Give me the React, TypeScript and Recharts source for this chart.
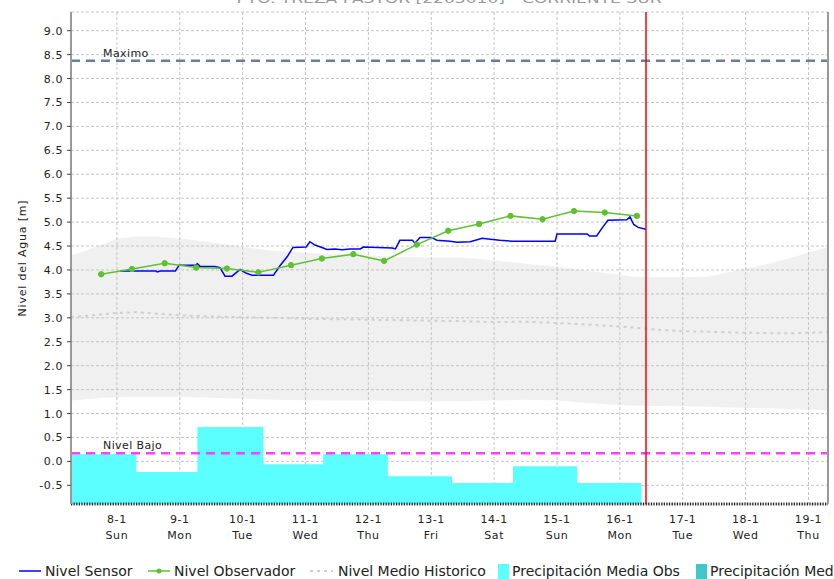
import React from 'react';
import { ComposedChart, XAxis, YAxis, CartesianGrid, Line, Area, ReferenceLine } from 'recharts';

const FONT = '"DejaVu Sans", Verdana, sans-serif';

// ---- axes ----
const X_MIN = 7.27;
const X_MAX = 19.31;
const Y_MIN = -0.89;
const Y_MAX = 9.39;
const R_MIN = -1.045;
const R_MAX = 9.1;

const dayTicks = [8, 9, 10, 11, 12, 13, 14, 15, 16, 17, 18, 19];
const dayLabels = ['8-1', '9-1', '10-1', '11-1', '12-1', '13-1', '14-1', '15-1', '16-1', '17-1', '18-1', '19-1'];
const weekdayLabels = ['Sun', 'Mon', 'Tue', 'Wed', 'Thu', 'Fri', 'Sat', 'Sun', 'Mon', 'Tue', 'Wed', 'Thu'];
const levelTicks = [-0.5, 0, 0.5, 1, 1.5, 2, 2.5, 3, 3.5, 4, 4.5, 5, 5.5, 6, 6.5, 7, 7.5, 8, 8.5, 9];
const rightTicks = [-1, 0, 1, 2, 3, 4, 5, 6, 7, 8, 9];

// ---- reference levels ----
const maxLevel = 8.37;
const lowLevel = 0.17;
const nowDay = 16.415;

// ---- Nivel Sensor ----
const sensorDays = [8.05, 8.62, 8.64, 8.69, 8.93, 8.99, 9.25, 9.28, 9.32, 9.56, 9.64, 9.72, 9.83, 9.96, 10.06, 10.15, 10.49, 10.6, 10.71, 10.8, 11.01, 11.07, 11.15, 11.26, 11.34, 11.47, 11.58, 11.71, 11.87, 11.92, 12.38, 12.43, 12.5, 12.7, 12.74, 12.82, 13.0, 13.09, 13.3, 13.41, 13.62, 13.81, 13.94, 14.09, 14.29, 14.57, 14.97, 15.0, 15.48, 15.52, 15.63, 15.73, 15.81, 16.11, 16.16, 16.22, 16.29, 16.415];
const sensorLevels = [3.98, 3.98, 3.96, 3.98, 3.98, 4.10, 4.10, 4.13, 4.08, 4.07, 4.05, 3.87, 3.87, 4.01, 3.93, 3.89, 3.89, 4.10, 4.28, 4.47, 4.48, 4.59, 4.52, 4.47, 4.43, 4.44, 4.42, 4.44, 4.44, 4.48, 4.46, 4.44, 4.62, 4.62, 4.56, 4.68, 4.68, 4.62, 4.60, 4.58, 4.59, 4.66, 4.64, 4.62, 4.60, 4.60, 4.60, 4.75, 4.75, 4.71, 4.71, 4.90, 5.04, 5.05, 5.11, 4.95, 4.89, 4.85];

// ---- Nivel Observador ----
const observerDays = [7.75, 8.24, 8.76, 9.26, 9.75, 10.25, 10.77, 11.26, 11.76, 12.25, 12.77, 13.27, 13.76, 14.26, 14.77, 15.27, 15.76, 16.27];
const observerLevels = [3.91, 4.02, 4.14, 4.05, 4.03, 3.95, 4.10, 4.24, 4.33, 4.19, 4.53, 4.82, 4.96, 5.13, 5.06, 5.23, 5.20, 5.13];

// ---- Historic band + median ----
const histDays = [7.27, 7.5, 7.8, 8.0, 8.3, 8.6, 9.0, 9.5, 10.0, 10.5, 11.0, 11.5, 12.0, 12.5, 13.0, 13.5, 14.0, 14.5, 15.0, 15.5, 16.0, 16.2, 16.5, 17.0, 17.4, 17.9, 18.4, 18.8, 19.31];
const histHigh = [4.3, 4.4, 4.55, 4.65, 4.7, 4.7, 4.66, 4.58, 4.48, 4.4, 4.36, 4.33, 4.3, 4.27, 4.26, 4.26, 4.2, 4.13, 4.07, 3.98, 3.9, 3.86, 3.85, 3.85, 3.86, 4.0, 4.14, 4.28, 4.48];
const histLow = [1.27, 1.3, 1.33, 1.34, 1.35, 1.35, 1.35, 1.33, 1.31, 1.29, 1.28, 1.27, 1.27, 1.26, 1.25, 1.26, 1.27, 1.29, 1.27, 1.22, 1.18, 1.17, 1.16, 1.15, 1.14, 1.12, 1.11, 1.09, 1.07];
const histMedian = [3.02, 3.04, 3.08, 3.1, 3.12, 3.09, 3.05, 3.03, 3.01, 3.0, 2.98, 2.97, 2.96, 2.95, 2.94, 2.93, 2.91, 2.92, 2.89, 2.86, 2.82, 2.8, 2.76, 2.72, 2.71, 2.69, 2.68, 2.68, 2.7];

// ---- Precipitación Media Obs (daily blocks) ----
const precipEdges = [7.27, 8.31, 9.28, 10.33, 11.28, 12.31, 13.33, 14.3, 15.32, 16.34];
const precipValues = [0.15, -0.22, 0.72, -0.06, 0.15, -0.31, -0.45, -0.10, -0.45];

const sensorData = sensorDays.map((d, i) => ({ d, v: sensorLevels[i] }));
const observerData = observerDays.map((d, i) => ({ d, v: observerLevels[i] }));
const bandData = histDays.map((d, i) => ({ d, r: [histLow[i], histHigh[i]] }));
const medianData = histDays.map((d, i) => ({ d, v: histMedian[i] }));
const precipData = precipEdges.map((d, i) => ({ d, p: precipValues[Math.min(i, precipValues.length - 1)] }));

const XTick = (props: any) => {
  const { x, y, payload } = props;
  const i = dayTicks.indexOf(payload.value);
  return (
    <g>
      <text x={x} y={y + 19} textAnchor="middle" fontSize={11} fill="#222" fontFamily={FONT} letterSpacing={0.6}>
        {dayLabels[i]}
      </text>
      <text x={x} y={y + 35} textAnchor="middle" fontSize={11} fill="#222" fontFamily={FONT} letterSpacing={0.6}>
        {weekdayLabels[i]}
      </text>
    </g>
  );
};

const YTick = (props: any) => {
  const { x, y, payload } = props;
  return (
    <text x={x} y={y + 4} textAnchor="end" fontSize={11} fill="#222" fontFamily={FONT} letterSpacing={0.6}>
      {Number(payload.value).toFixed(1)}
    </text>
  );
};

const refLabel = (text: string) => (p: any) => {
  const vb = p.viewBox || {};
  const x = (vb.x ?? 71) + 32;
  const y = (vb.y ?? 0) - 4;
  return (
    <text x={x} y={y} fontSize={11} fill="#222" fontFamily={FONT} letterSpacing={0.4}>
      {text}
    </text>
  );
};

const yLabel = (p: any) => {
  const vb = p.viewBox || {};
  const cx = 26;
  const cy = (vb.y ?? 12) + (vb.height ?? 492) / 2;
  return (
    <text x={cx} y={cy} transform={`rotate(-90, ${cx}, ${cy})`} textAnchor="middle" fontSize={11} fill="#222" fontFamily={FONT} letterSpacing={0.8}>
      Nivel del Agua [m]
    </text>
  );
};

export default function App() {
  return (
    <div style={{ position: 'absolute', left: 0, top: 0, width: 834, height: 579, overflow: 'hidden', background: '#fff' }}>
      <ComposedChart width={834} height={579} margin={{ top: 12, right: 0, bottom: 30, left: 0 }}>
        <XAxis
          dataKey="d"
          type="number"
          domain={[X_MIN, X_MAX]}
          allowDataOverflow
          ticks={dayTicks}
          interval={0}
          tick={(p: any) => <XTick {...p} />}
          tickLine={false}
          tickSize={0}
          tickMargin={0}
          height={45}
          axisLine={{ stroke: '#222', strokeWidth: 3, strokeDasharray: '1.2 1.4' }}
        />
        <XAxis
          xAxisId="top"
          orientation="top"
          type="number"
          domain={[X_MIN, X_MAX]}
          allowDataOverflow
          tick={false}
          tickLine={false}
          height={0}
          axisLine={{ stroke: '#999', strokeWidth: 2 }}
        />
        <YAxis
          type="number"
          domain={[Y_MIN, Y_MAX]}
          allowDataOverflow
          ticks={levelTicks}
          interval={0}
          width={71}
          tick={(p: any) => <YTick {...p} />}
          tickSize={4}
          tickMargin={4}
          tickLine={{ stroke: '#444' }}
          axisLine={{ stroke: '#999', strokeWidth: 2 }}
          label={yLabel}
        />
        <YAxis
          yAxisId="right"
          orientation="right"
          type="number"
          domain={[R_MIN, R_MAX]}
          allowDataOverflow
          ticks={rightTicks}
          interval={0}
          width={6}
          tick={false}
          tickSize={4}
          tickLine={{ stroke: '#444' }}
          axisLine={{ stroke: '#999', strokeWidth: 2 }}
        />
        <CartesianGrid stroke="#c4c4c4" strokeDasharray="3 2" />
        <Area
          data={bandData}
          dataKey="r"
          type="linear"
          fill="#c8c8c8"
          fillOpacity={0.27}
          stroke="none"
          isAnimationActive={false}
        />
        <Area
          data={precipData}
          dataKey="p"
          type="stepAfter"
          baseValue={Y_MIN}
          fill="#5cffff"
          fillOpacity={1}
          stroke="none"
          isAnimationActive={false}
        />
        <Line
          data={medianData}
          dataKey="v"
          type="linear"
          stroke="#cfcfcf"
          strokeWidth={2}
          strokeDasharray="3 4"
          dot={false}
          isAnimationActive={false}
        />
        <Line
          data={sensorData}
          dataKey="v"
          type="linear"
          stroke="#0000ff"
          strokeWidth={1.5}
          dot={false}
          isAnimationActive={false}
        />
        <Line
          data={observerData}
          dataKey="v"
          type="linear"
          stroke="#5ec22f"
          strokeWidth={1.5}
          dot={{ r: 2.7, fill: '#5ec22f', stroke: '#5ec22f', strokeWidth: 1 }}
          isAnimationActive={false}
        />
        <ReferenceLine y={maxLevel} stroke="#6c7b9e" strokeWidth={2.5} strokeDasharray="9 6" label={refLabel('Maximo')} />
        <ReferenceLine y={lowLevel} stroke="#ff40ff" strokeWidth={2.5} strokeDasharray="9 6" label={refLabel('Nivel Bajo')} />
        <ReferenceLine x={nowDay} stroke="#ff0000" strokeWidth={1.5} />
      </ComposedChart>
      <svg width={834} height={579} style={{ position: 'absolute', left: 0, top: 0, pointerEvents: 'none' }}>
        <text x={449} y={3} textAnchor="middle" fontSize={13} fill="#999" fontFamily={FONT} textLength={425} lengthAdjust="spacingAndGlyphs">
          PTO. TREZA PASTOR [2203010] - CORRIENTE SUR
        </text>
        <g fontFamily={FONT} fontSize={14} fill="#222">
          <line x1={19} x2={41} y1={571} y2={571} stroke="#0000ff" strokeWidth={1.5} />
          <text x={45} y={576}>Nivel Sensor</text>
          <line x1={148} x2={170} y1={571} y2={571} stroke="#5ec22f" strokeWidth={1.5} />
          <circle cx={159} cy={571} r={2.5} fill="#5ec22f" />
          <text x={174} y={576}>Nivel Observador</text>
          <line x1={310} x2={333} y1={571} y2={571} stroke="#cfcfcf" strokeWidth={2} strokeDasharray="3 4" />
          <text x={338} y={576}>Nivel Medio Historico</text>
          <rect x={498} y={564} width={11} height={15} fill="#5cffff" />
          <text x={512} y={576}>Precipitación Media Obs</text>
          <rect x={696} y={564} width={11} height={15} fill="#40c8c8" />
          <text x={710} y={576}>Precipitación Media Pronóstico</text>
        </g>
      </svg>
    </div>
  );
}
